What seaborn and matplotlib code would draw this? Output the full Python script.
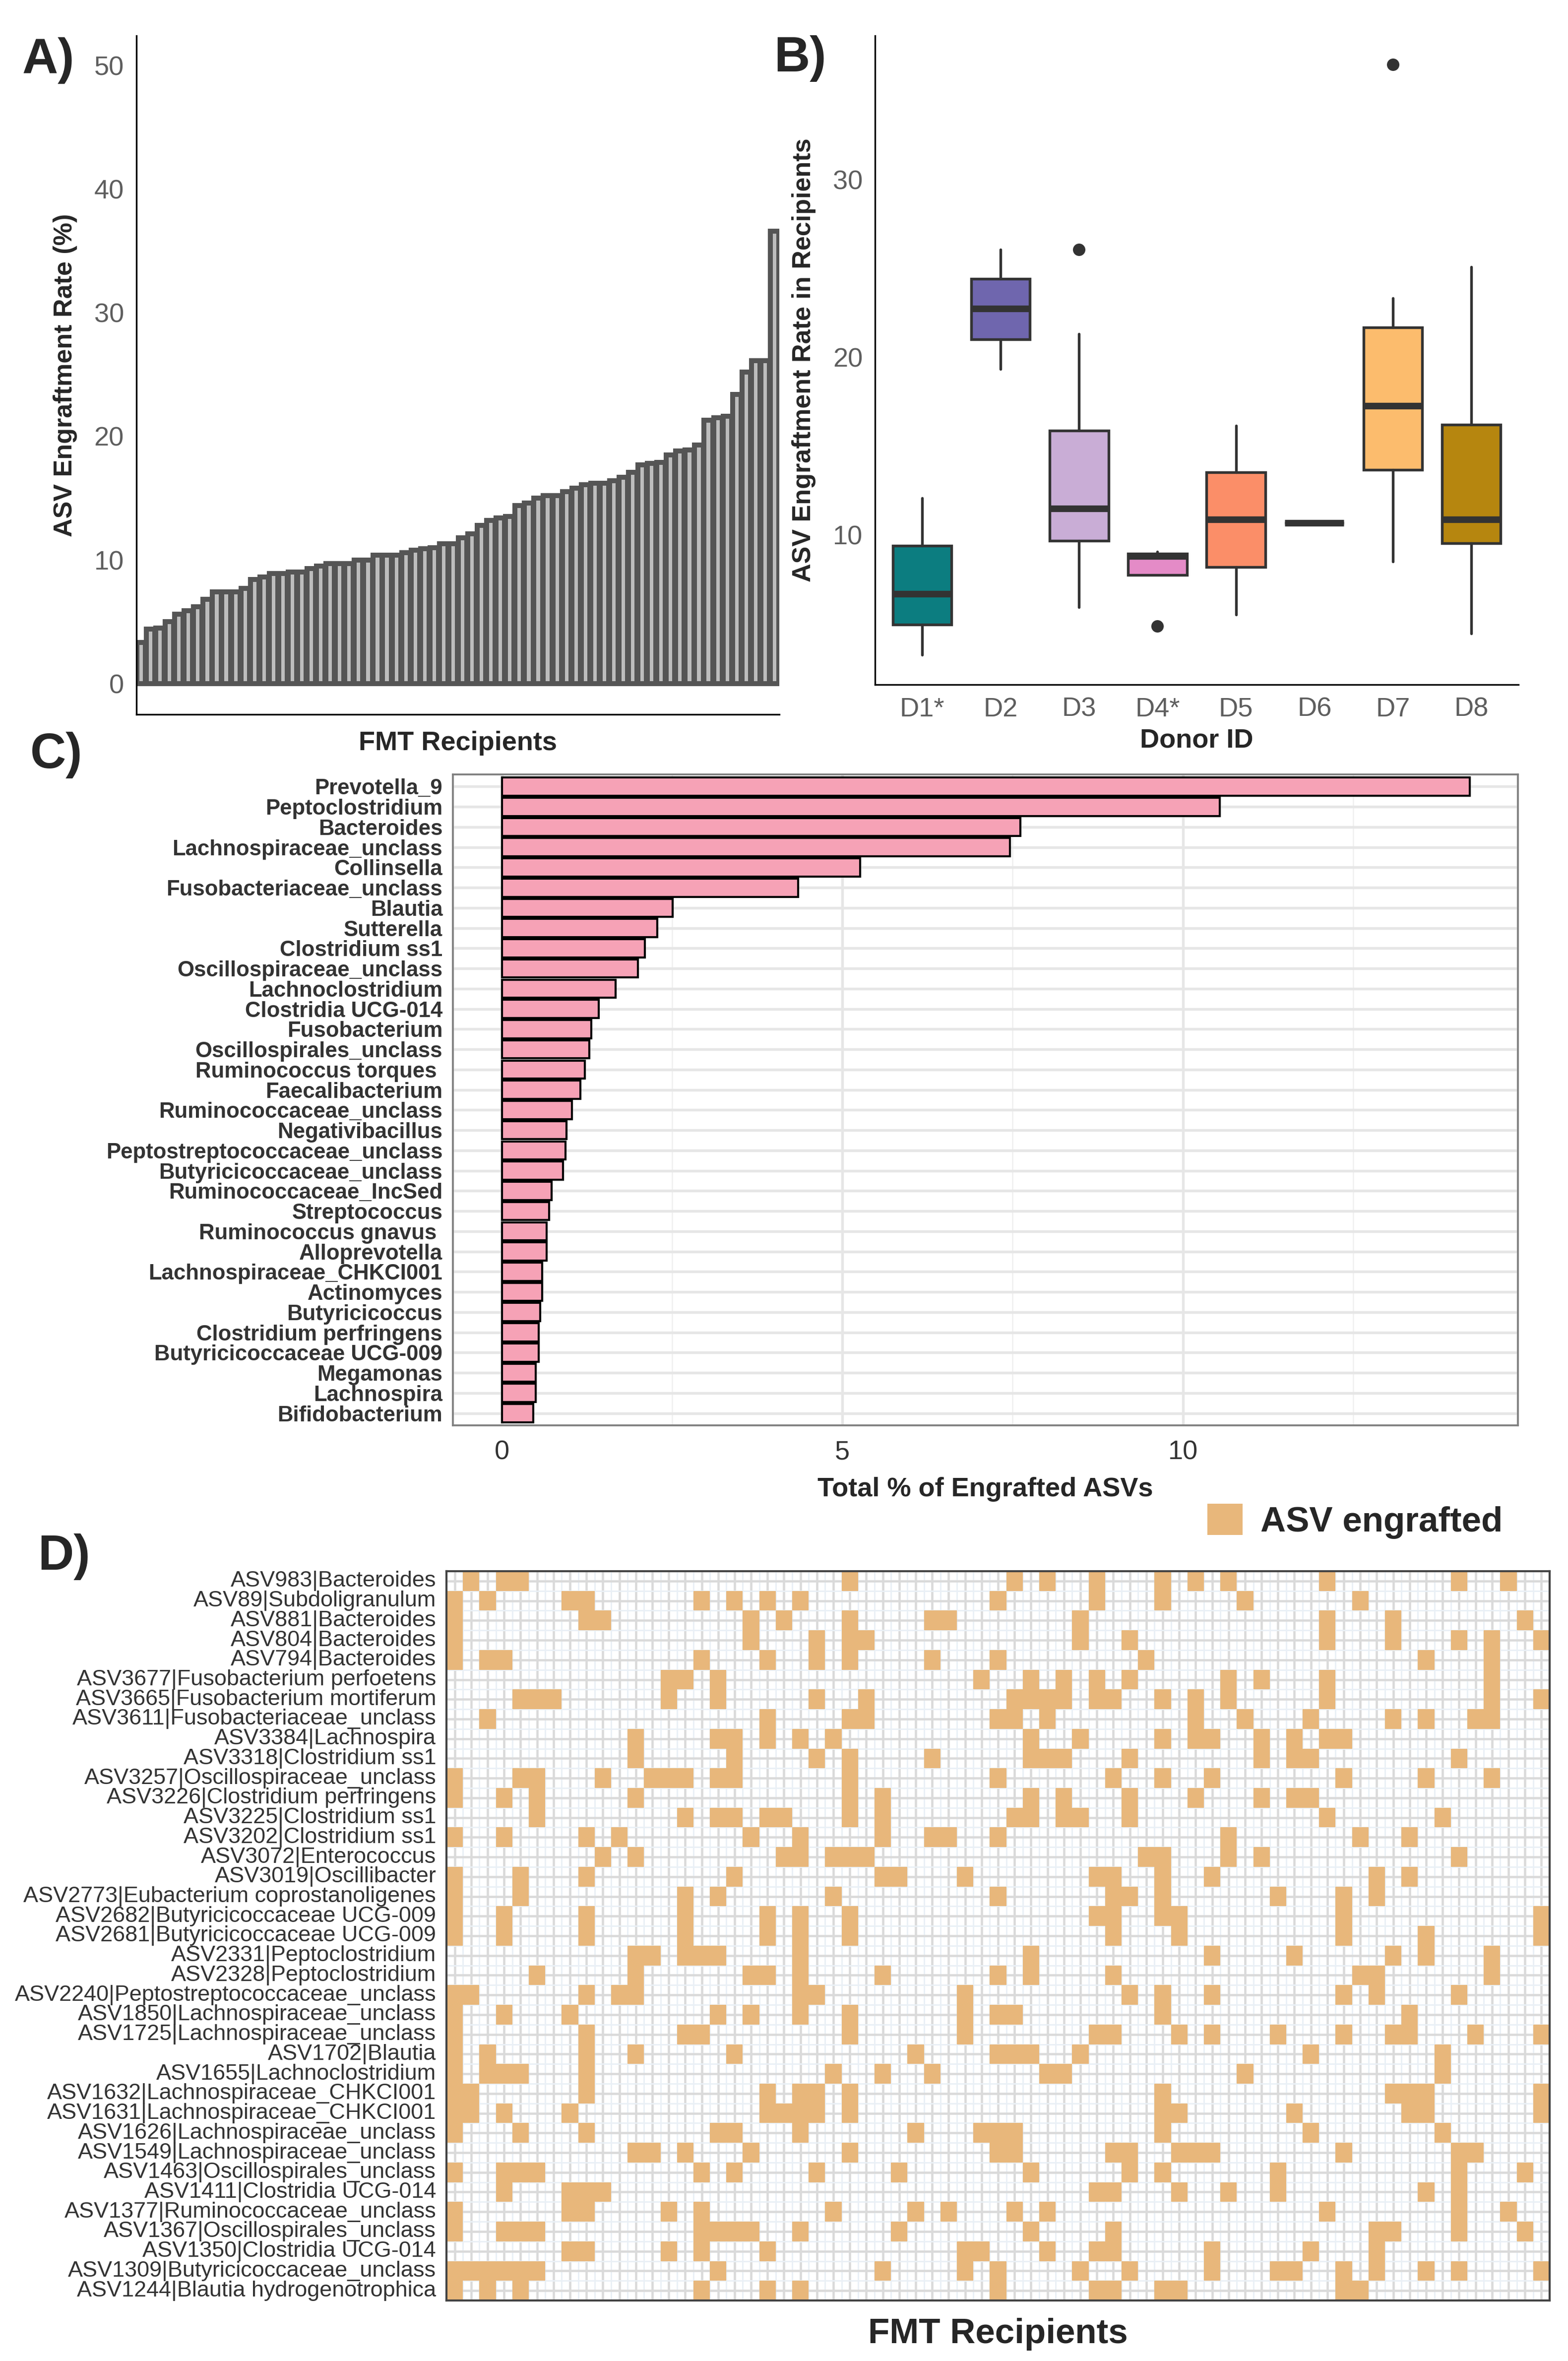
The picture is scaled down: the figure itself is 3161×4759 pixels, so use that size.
import numpy as np
import pandas as pd
import seaborn as sns
import matplotlib.pyplot as plt
from matplotlib.colors import ListedColormap
from matplotlib.patches import Patch

# ---------------- A) engraftment rate per recipient (sorted) ----------------
recipient_rates = [3.3, 4.4, 4.5, 5.0, 5.6, 5.9, 6.2, 6.8, 7.4, 7.4, 7.4, 7.7,
                   8.4, 8.6, 8.9, 8.9, 9.0, 9.0, 9.3, 9.5, 9.7, 9.7, 9.7, 10.0,
                   10.0, 10.4, 10.4, 10.4, 10.6, 10.8, 10.9, 11.0, 11.3, 11.3,
                   11.8, 12.1, 12.8, 13.2, 13.4, 13.5, 14.4, 14.6, 15.0, 15.2,
                   15.2, 15.5, 15.8, 16.1, 16.2, 16.2, 16.4, 16.7, 17.1, 17.7,
                   17.8, 17.9, 18.5, 18.8, 18.9, 19.3, 21.3, 21.5, 21.6, 23.4,
                   25.2, 26.1, 26.1, 36.6]
recipient_ids = [f"R{i + 1}" for i in range(len(recipient_rates))]

# ---------------- B) engraftment by donor (box summaries) ----------------
donors = ["D1*", "D2", "D3", "D4*", "D5", "D6", "D7", "D8"]
box_q1 = [4.93, 21.0, 9.65, 7.73, 8.18, 10.67, 13.66, 9.52]
box_med = [6.66, 22.74, 11.47, 8.80, 10.85, 10.67, 17.26, 10.85]
box_q3 = [9.39, 24.42, 15.87, 8.93, 13.52, 10.67, 21.67, 16.19]
whisk_lo = [3.24, 19.32, 5.91, 7.73, 5.51, 10.67, 8.5, 4.45]
whisk_hi = [12.06, 26.07, 21.32, 9.04, 16.14, 10.67, 23.32, 25.09]
outliers = [[], [], [26.07], [4.85], [], [], [36.49], []]
donor_colors = ["#0C7D80", "#6F66AE", "#C9ADD6", "#E48BC7", "#FB8E68",
                "#999999", "#FCBC6D", "#B6860F"]

# ---------------- C) genera ----------------
genera = ["Prevotella_9", "Peptoclostridium", "Bacteroides", "Lachnospiraceae_unclass",
          "Collinsella", "Fusobacteriaceae_unclass", "Blautia", "Sutterella",
          "Clostridium ss1", "Oscillospiraceae_unclass", "Lachnoclostridium",
          "Clostridia UCG-014", "Fusobacterium", "Oscillospirales_unclass",
          "Ruminococcus torques ", "Faecalibacterium", "Ruminococcaceae_unclass",
          "Negativibacillus", "Peptostreptococcaceae_unclass", "Butyricicoccaceae_unclass",
          "Ruminococcaceae_IncSed", "Streptococcus", "Ruminococcus gnavus ",
          "Alloprevotella", "Lachnospiraceae_CHKCI001", "Actinomyces", "Butyricicoccus",
          "Clostridium perfringens", "Butyricicoccaceae UCG-009", "Megamonas",
          "Lachnospira", "Bifidobacterium"]
genus_pct = [14.21, 10.54, 7.61, 7.46, 5.26, 4.35, 2.51, 2.28, 2.10, 2.00, 1.67,
             1.42, 1.31, 1.28, 1.22, 1.15, 1.03, 0.95, 0.93, 0.90, 0.73, 0.69,
             0.66, 0.66, 0.59, 0.59, 0.56, 0.54, 0.54, 0.50, 0.50, 0.46]

# ---------------- D) ASV x recipient engraftment ----------------
asv_labels = ["ASV983|Bacteroides", "ASV89|Subdoligranulum", "ASV881|Bacteroides",
              "ASV804|Bacteroides", "ASV794|Bacteroides", "ASV3677|Fusobacterium perfoetens",
              "ASV3665|Fusobacterium mortiferum", "ASV3611|Fusobacteriaceae_unclass",
              "ASV3384|Lachnospira", "ASV3318|Clostridium ss1", "ASV3257|Oscillospiraceae_unclass",
              "ASV3226|Clostridium perfringens", "ASV3225|Clostridium ss1",
              "ASV3202|Clostridium ss1", "ASV3072|Enterococcus", "ASV3019|Oscillibacter",
              "ASV2773|Eubacterium coprostanoligenes", "ASV2682|Butyricicoccaceae UCG-009",
              "ASV2681|Butyricicoccaceae UCG-009", "ASV2331|Peptoclostridium",
              "ASV2328|Peptoclostridium", "ASV2240|Peptostreptococcaceae_unclass",
              "ASV1850|Lachnospiraceae_unclass", "ASV1725|Lachnospiraceae_unclass",
              "ASV1702|Blautia", "ASV1655|Lachnoclostridium", "ASV1632|Lachnospiraceae_CHKCI001",
              "ASV1631|Lachnospiraceae_CHKCI001", "ASV1626|Lachnospiraceae_unclass",
              "ASV1549|Lachnospiraceae_unclass", "ASV1463|Oscillospirales_unclass",
              "ASV1411|Clostridia UCG-014", "ASV1377|Ruminococcaceae_unclass",
              "ASV1367|Oscillospirales_unclass", "ASV1350|Clostridia UCG-014",
              "ASV1309|Butyricicoccaceae_unclass", "ASV1244|Blautia hydrogenotrophica"]
n_recipients_d = 67
# recipient columns (0-based) in which each ASV engrafted
engrafted = [
    [1, 3, 4, 24, 34, 36, 39, 43, 45, 47, 53, 61, 64],
    [0, 2, 7, 8, 15, 17, 19, 21, 33, 39, 43, 48, 55],
    [0, 8, 9, 18, 20, 24, 29, 30, 38, 53, 57, 65],
    [0, 18, 22, 24, 25, 38, 41, 53, 57, 61, 63, 66],
    [0, 2, 3, 15, 19, 22, 24, 29, 33, 42, 59, 63],
    [13, 14, 16, 32, 35, 37, 39, 41, 47, 49, 53, 63],
    [4, 5, 6, 13, 16, 22, 25, 34, 35, 36, 37, 39, 40, 43, 45, 47, 53, 63, 66],
    [2, 19, 24, 25, 33, 34, 36, 45, 48, 52, 57, 59, 62, 63],
    [11, 16, 17, 19, 21, 23, 35, 38, 43, 45, 46, 49, 51, 53, 54],
    [11, 17, 22, 24, 29, 35, 36, 37, 41, 49, 51, 52, 61],
    [0, 4, 5, 9, 12, 13, 14, 16, 17, 24, 33, 40, 43, 46, 54, 59, 63],
    [0, 3, 5, 11, 24, 26, 35, 37, 41, 45, 49, 51, 52],
    [5, 14, 16, 17, 19, 20, 24, 26, 34, 35, 37, 38, 41, 53, 60],
    [0, 3, 8, 10, 18, 21, 26, 29, 30, 33, 47, 55, 58],
    [9, 11, 20, 21, 23, 24, 25, 42, 43, 47, 49, 61],
    [0, 4, 8, 17, 26, 27, 31, 39, 40, 43, 46, 56, 58],
    [0, 4, 14, 16, 23, 33, 40, 41, 43, 50, 54, 56],
    [0, 3, 8, 14, 19, 21, 24, 39, 40, 43, 44, 54, 66],
    [0, 3, 8, 14, 19, 21, 24, 40, 44, 54, 59, 66],
    [11, 12, 14, 15, 16, 21, 35, 46, 51, 57, 59, 63],
    [5, 11, 18, 19, 21, 26, 33, 35, 40, 55, 56, 63],
    [0, 1, 8, 10, 11, 21, 22, 31, 41, 43, 46, 54, 56, 61],
    [0, 3, 7, 16, 18, 21, 24, 31, 33, 34, 43, 58],
    [0, 8, 14, 15, 24, 31, 39, 40, 44, 46, 50, 54, 57, 58, 62, 66],
    [0, 2, 8, 11, 17, 28, 33, 34, 35, 38, 52, 60],
    [0, 2, 3, 4, 8, 23, 26, 29, 36, 37, 48, 60],
    [0, 1, 8, 19, 21, 22, 24, 43, 57, 58, 59, 66],
    [0, 1, 3, 7, 19, 20, 21, 22, 24, 43, 44, 51, 58, 59, 66],
    [0, 4, 8, 16, 17, 21, 28, 32, 33, 34, 43, 52, 60],
    [11, 12, 14, 18, 24, 33, 34, 40, 41, 44, 45, 46, 54, 61, 62],
    [0, 3, 4, 5, 15, 17, 22, 27, 35, 41, 43, 50, 61, 65],
    [3, 7, 8, 9, 39, 40, 44, 47, 50, 59, 61],
    [0, 7, 8, 13, 15, 23, 28, 30, 34, 36, 53, 61, 64],
    [0, 3, 4, 5, 15, 16, 17, 18, 21, 27, 35, 40, 56, 57, 61, 65],
    [7, 8, 13, 15, 19, 31, 32, 36, 39, 40, 46, 52, 56],
    [0, 1, 2, 3, 4, 5, 16, 26, 31, 33, 38, 41, 46, 50, 51, 54, 56, 59, 61, 66],
    [0, 2, 4, 15, 19, 21, 33, 39, 40, 43, 44, 54, 55],
]

sns.set_style("white")
plt.rcParams['font.family'] = ['Liberation Sans', 'DejaVu Sans']

W, H = 3161, 4759
fig = plt.figure(figsize=(W / 300, H / 300), dpi=300)


def box(x0, y0, x1, y1):
    # pixel box (top-left origin) -> figure fraction
    return [x0 / W, 1 - y1 / H, (x1 - x0) / W, (y1 - y0) / H]


tick_gray = "#5E5E5E"

# ---------------- panel A ----------------
axA = fig.add_axes(box(275, 72, 1571, 1440))
sns.barplot(x=recipient_ids, y=recipient_rates, order=recipient_ids, color="#BDBDBD",
            saturation=1, edgecolor="#555555", linewidth=2.4, width=0.9, ax=axA)
axA.set_xlim(-0.5, len(recipient_rates) - 0.5)
axA.set_ylim(-2.5, 52.4)
axA.set_yticks([0, 10, 20, 30, 40, 50])
axA.set_xticks([])
axA.set_xlabel("FMT Recipients", fontsize=13, fontweight='bold', labelpad=8)
axA.set_ylabel("ASV Engraftment Rate (%)", fontsize=12.5, fontweight='bold', labelpad=8)
sns.despine(ax=axA)

# ---------------- panel B ----------------
axB = fig.add_axes(box(1764, 72, 3061, 1380))
stats = []
for i, d in enumerate(donors):
    stats.append(dict(label=d, q1=box_q1[i], med=box_med[i], q3=box_q3[i],
                      whislo=whisk_lo[i], whishi=whisk_hi[i], fliers=outliers[i]))
bp = axB.bxp(stats, positions=range(len(donors)), widths=0.75, patch_artist=True,
             showcaps=False,
             boxprops=dict(edgecolor="#333333", linewidth=1.3),
             whiskerprops=dict(color="#333333", linewidth=1.3),
             medianprops=dict(color="#333333", linewidth=3.2, solid_capstyle='butt'),
             flierprops=dict(marker='o', markerfacecolor="#333333",
                             markeredgecolor="#333333", markersize=5))
for patch, col in zip(bp['boxes'], donor_colors):
    patch.set_facecolor(col)
axB.set_xlim(-0.6, len(donors) - 0.4)
axB.set_ylim(1.56, 38.1)
axB.set_yticks([10, 20, 30])
axB.set_xlabel("Donor ID", fontsize=13, fontweight='bold', labelpad=3)
axB.set_ylabel("ASV Engraftment Rate in Recipients", fontsize=12.5, fontweight='bold',
               labelpad=8)
sns.despine(ax=axB)

for ax in (axA, axB):
    for s in ('left', 'bottom'):
        ax.spines[s].set_color('black')
        ax.spines[s].set_linewidth(0.8)
    ax.tick_params(axis='both', length=4, width=0.8, color='#333333',
                   labelsize=13, labelcolor=tick_gray, pad=2)

# ---------------- panel C ----------------
axC = fig.add_axes(box(913, 1561, 3060, 2873))
sns.barplot(x=genus_pct, y=genera, order=genera, orient='h', color="#F6A2B6",
            saturation=1, edgecolor="black", linewidth=1.0, width=0.9, ax=axC)
axC.set_xlim(-0.72, 14.92)
axC.set_ylim(len(genera) - 0.4, -0.6)
axC.set_xticks([0, 5, 10])
axC.set_xticks([2.5, 7.5, 12.5], minor=True)
axC.set_axisbelow(True)
axC.grid(which='major', axis='both', color="#E6E6E6", linewidth=1.3)
axC.grid(which='minor', axis='x', color="#F0F0F0", linewidth=0.6)
for s in axC.spines.values():
    s.set_visible(True)
    s.set_color("#7F7F7F")
    s.set_linewidth(0.9)
axC.tick_params(axis='y', length=3, width=0.8, color='#333333', labelsize=10.5,
                labelcolor='#333333', pad=2)
axC.tick_params(axis='x', length=3, width=0.8, color='#999999', labelsize=13,
                labelcolor='#333333', pad=4)
axC.tick_params(axis='x', which='minor', length=0)
for lab in axC.get_yticklabels():
    lab.set_fontweight('bold')
axC.set_ylabel("")
axC.set_xlabel("Total % of Engrafted ASVs", fontsize=13, fontweight='bold', labelpad=6)

# ---------------- panel D ----------------
mat = np.zeros((len(asv_labels), n_recipients_d))
for r, cols in enumerate(engrafted):
    mat[r, cols] = 1
df_d = pd.DataFrame(mat, index=asv_labels)
tile = "#E8B77B"
axD = fig.add_axes(box(900, 3167, 3124, 4637))
sns.heatmap(df_d, mask=(mat == 0), cmap=ListedColormap([tile]), vmin=0, vmax=1,
            cbar=False, xticklabels=False, yticklabels=True, linewidths=0, ax=axD)
axD.set_xticks(np.arange(n_recipients_d) + 0.5)
axD.set_xticklabels([])
axD.set_xticks(np.arange(n_recipients_d + 1), minor=True)
axD.set_yticks(np.arange(len(asv_labels) + 1), minor=True)
axD.set_axisbelow(True)
axD.grid(which='minor', color="#EAF0F6", linewidth=0.7)
axD.grid(which='major', color="#DADADA", linewidth=1.1)
axD.tick_params(axis='x', which='both', length=0)
axD.tick_params(axis='y', which='minor', length=0)
axD.tick_params(axis='y', which='major', length=3, width=0.8, color='#333333',
                labelsize=10.8, labelcolor='#333333', pad=2, rotation=0)
for s in axD.spines.values():
    s.set_visible(True)
    s.set_color("#444444")
    s.set_linewidth(1.0)
axD.set_xlabel("FMT Recipients", fontsize=17, fontweight='bold', labelpad=5)
axD.set_ylabel("")
axD.legend(handles=[Patch(facecolor=tile, edgecolor='none', label="ASV engrafted")],
           loc='lower right', bbox_to_anchor=(0.97, 1.025), frameon=False,
           prop=dict(size=17, weight='bold'), handlelength=1.0, handleheight=1.0,
           handletextpad=0.5, borderaxespad=0)

# panel letters
for letter, x, y in [("A)", 45, 122), ("B)", 1560, 118), ("C)", 61, 1522), ("D)", 76, 3138)]:
    fig.text(x / W, 1 - y / H, letter, fontsize=24, fontweight='bold', ha='left',
             va='center')

fig.savefig("out.png", dpi=300)
